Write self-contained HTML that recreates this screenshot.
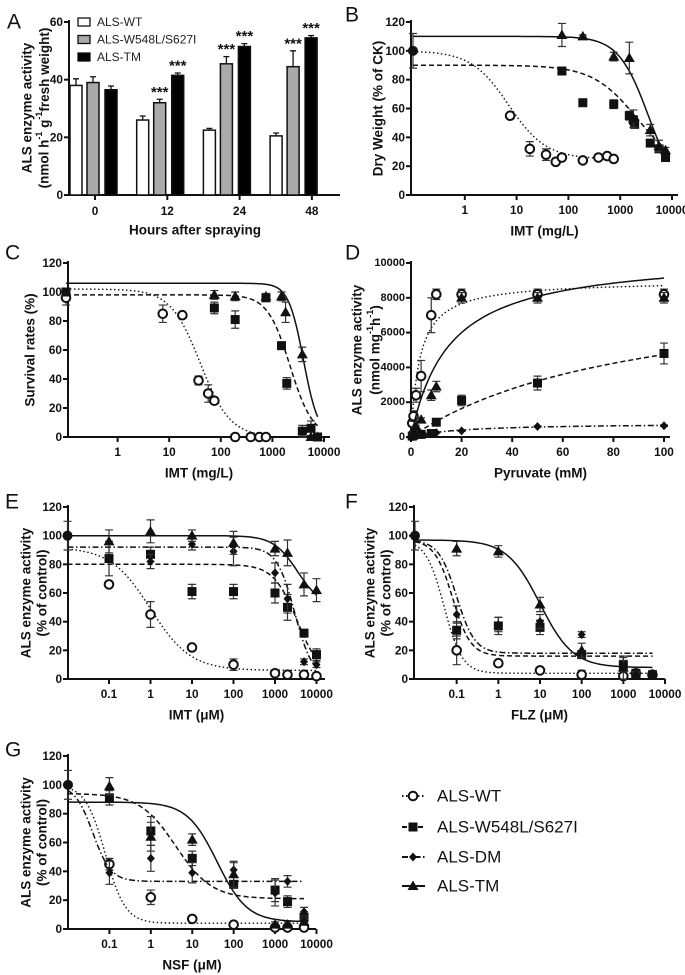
<!DOCTYPE html>
<html><head><meta charset="utf-8"><style>
body{margin:0;background:#fff;}
svg{display:block;font-family:"Liberation Sans",Arial,sans-serif;}
.tk{font-size:11.8px;font-weight:bold;fill:#111;}
.tt{font-size:13.5px;font-weight:bold;fill:#111;}
.pl{font-size:21px;fill:#111;}
.st{font-size:15px;font-weight:bold;fill:#111;}
</style></head><body>
<svg id="fig" width="685" height="975" viewBox="0 0 685 975"></svg>
<script>
// ---------- Panel A data ----------
const aCats=["0","12","24","48"];
const aSeries=["ALS-WT","ALS-W548L/S627I","ALS-TM"];
const aWT=[38,26,22.5,20.5], aWTe=[2.3,1.4,0.6,1];
const aMU=[39,32,45.5,44.5], aMUe=[2,1.2,2.5,5.5];
const aTM=[36.5,41.5,51.5,54.5], aTMe=[1.3,0.8,1,0.8];
const aStarsMU=[false,true,true,true], aStarsTM=[false,true,true,true];
const aYTicks=[0,20,40,60];
// ---------- Panel B data (x, y, err) ----------
const bWTx=[0.1,7.5,18,37,57,75,190,380,560,750], bWTy=[100,55,32,28,23,26,24,26,27,25], bWTe=[12,2,5,4,1,1,1,1,1,1];
const bMUx=[75,190,750,1500,1800,1900,3800,5600,7500], bMUy=[86,64,63,55,52,49,36,32,26], bMUe=[2,1,3,3,3,2,1,2,1];
const bTMx=[75,190,750,1500,1800,3800,5600,7500], bTMy=[111,110,96,95,53,45,34,31], bTMe=[8,1,3,11,6,4,4,2];
const bFitWT=[100,25,7,1.2], bFitMU=[90,15,2200,1], bFitTM=[110,0,3500,1.5];
// ---------- Panel C ----------
const cWTx=[0.1,7.5,18,37,57,75,190,380,560,750], cWTy=[96,85,84,39,30,25,0,0,0,0], cWTe=[5,6,1,3,6,2,0,0,0,0];
const cMUx=[0.1,75,190,750,1500,1900,3800,5600,7500], cMUy=[100,89,81,96,63,37,4,6,0], cMUe=[2,4,6,2,2,4,4,5,0];
const cTMx=[75,190,750,1500,1800,3800,5600,7500], cTMy=[98,97,97,97,86,57,0,0], cTMe=[3,3,2,3,7,5,0,0];
const cFitWT=[102,0,40,1.5], cFitMU=[98,0,2200,2], cFitTM=[106,0,4000,3];
// ---------- Panel D (Michaelis-Menten) ----------
const dWTx=[0.5,1,2,4,8,10,20,50,100], dWTy=[800,1200,2400,3500,7000,8200,8200,8200,8200], dWTe=[200,300,400,900,1000,300,300,300,300];
const dMUx=[0.5,1,2,4,8,10,20,50,100], dMUy=[50,100,150,150,200,850,2100,3100,4800], dMUe=[30,30,30,30,50,100,300,400,600];
const dDMx=[0.5,1,5,10,20,50,100], dDMy=[20,50,150,250,350,600,650], dDMe=[10,10,20,20,30,40,40];
const dTMx=[0.5,1,2,4,8,10,20,50,100], dTMy=[150,300,600,1000,2400,2900,8000,8000,8000], dTMe=[50,50,80,100,300,300,300,300,300];
const dFitWT=[9000,3.5], dFitMU=[9000,90], dFitDM=[800,20], dFitTM=[10500,15];
// ---------- Panel E ----------
const eWTx=[0.01,0.1,1,10,100,1000,2000,5000,10000], eWTy=[100,66,45,22,10,4,3,3,2], eWTe=[10,2,9,1,4,1,1,1,1];
const eMUx=[0.1,1,10,100,1000,2000,5000,10000], eMUy=[84,87,61,61,60,50,32,17], eMUe=[12,5,5,5,7,9,2,4];
const eDMx=[1,10,100,1000,2000,5000,10000], eDMy=[82,94,89,74,56,12,10], eDMe=[5,4,10,7,10,2,2];
const eTMx=[0.1,1,10,100,1000,2000,5000,10000], eTMy=[96,103,100,95,91,88,66,62], eTMe=[8,8,4,8,5,9,8,8];
const eFitWT=[92,6,1,0.9], eFitMU=[80,0,3500,1.5], eFitDM=[92,0,3000,2], eFitTM=[100,50,3500,1.5];
// ---------- Panel F ----------
const fWTx=[0.01,0.1,1,10,100,1000,2000,5000], fWTy=[100,20,11,6,3,2,4,3], fWTe=[10,10,2,1,3,1,1,1];
const fMUx=[0.1,1,10,100,1000,2000,5000], fMUy=[34,37,36,17,10,4,3], fMUe=[6,6,5,2,5,1,1];
const fDMx=[0.1,1,10,100,1000,2000], fDMy=[45,38,40,31,10,3], fDMe=[6,5,5,2,3,1];
const fTMx=[0.1,1,10,100,1000,2000], fTMy=[91,89,52,20,8,3], fTMe=[5,4,5,5,8,2];
const fFitWT=[97,4,0.05,2], fFitMU=[97,16,0.08,2], fFitDM=[97,18,0.1,2], fFitTM=[97,8,10,1.1];
// ---------- Panel G ----------
const gWTx=[0.01,0.1,1,10,100,1000,2000,5000], gWTy=[100,45,22,7,3,1,1,1], gWTe=[10,4,5,1,1,1,1,1];
const gMUx=[0.1,1,10,100,1000,2000,5000], gMUy=[91,68,49,31,27,19,8], gMUe=[5,10,5,2,8,4,3];
const gDMx=[0.1,1,10,100,1000,2000,5000], gDMy=[39,49,39,41,25,33,12], gDMe=[8,9,7,5,9,4,3];
const gTMx=[0.1,1,10,100,1000,2000,5000], gTMy=[99,64,62,38,3,3,5], gTMe=[6,10,4,9,2,2,2];
const gFitWT=[100,4,0.08,1.8], gFitMU=[94,21,4,1], gFitDM=[100,33,0.04,2], gFitTM=[88,5,40,1.2];
const logTicks=[0.1,1,10,100,1000,10000], logTicksB=[1,10,100,1000,10000];
const pctTicks=[0,20,40,60,80,100,120], dYTicks=[0,2000,4000,6000,8000,10000], dXTicks=[0,20,40,60,80,100];

const NS="http://www.w3.org/2000/svg", svg=document.getElementById('fig');
function el(t,a,p){const e=document.createElementNS(NS,t);for(const k in a)e.setAttribute(k,a[k]);(p||svg).appendChild(e);return e;}
function txt(s,x,y,cls,p,anchor,rot){const e=el('text',{x:x,y:y,class:cls,'text-anchor':anchor||'middle','dominant-baseline':'central'},p);if(rot)e.setAttribute('transform','rotate(-90 '+x+' '+y+')');e.textContent=s;return e;}
function lin(d0,d1,r0,r1){return v=>r0+(v-d0)/(d1-d0)*(r1-r0);}
function logs(d0,d1,r0,r1){return v=>r0+(Math.log10(v)-Math.log10(d0))/(Math.log10(d1)-Math.log10(d0))*(r1-r0);}
function hill(p){return x=>p[1]+(p[0]-p[1])/(1+Math.pow(x/p[2],p[3]));}
function mm(p){return x=>p[0]*x/(p[1]+x);}
const DASH={WT:'1.5 2.5',MU:'5 3',DM:'6 2.5 1.5 2.5',TM:''};

function marker(g,kind,x,y){
  let m;
  if(kind==='WT'){m=el('circle',{cx:x,cy:y,r:4.3,fill:'#fff',stroke:'#111','stroke-width':2},g);}
  else if(kind==='MU'){m=el('rect',{x:x-4.5,y:y-4.5,width:9,height:9,fill:'#111'},g);}
  else if(kind==='DM'){m=el('path',{d:`M${x},${y-4.5}L${x+4},${y}L${x},${y+4.5}L${x-4},${y}Z`,fill:'#111'},g);}
  else if(kind==='CTRL'){m=el('circle',{cx:x,cy:y,r:5,fill:'#111'},g);}
  else {m=el('path',{d:`M${x},${y-5.5}L${x+5.5},${y+4}L${x-5.5},${y+4}Z`,fill:'#111'},g);}
  return m;
}
function errbar(g,x,y0,y1){
  el('path',{d:`M${x},${y0}V${y1}M${x-4},${y0}H${x+4}M${x-4},${y1}H${x+4}`,stroke:'#333','stroke-width':1.2,fill:'none'},g);
}
function axes(g,P,xs,ys,xt,xtl,yt,xtitle,ytitles,ytx,ytfs){
  el('path',{d:`M${P.x0},${P.yTop-2}V${P.y0}H${P.x1}`,stroke:'#111','stroke-width':2,fill:'none'},g);
  yt.forEach(v=>{const y=ys(v);el('line',{x1:P.x0-5,x2:P.x0,y1:y,y2:y,stroke:'#111','stroke-width':2},g);
    const t=txt(String(v),P.x0-6,y,'tk',g,'end');if(ytfs)t.setAttribute('style','font-size:'+ytfs+'px');
    });
  xt.forEach((v,i)=>{const x=xs(v);el('line',{x1:x,x2:x,y1:P.y0,y2:P.y0+5,stroke:'#111','stroke-width':2},g);
    const t=txt(xtl[i],x,P.y0+15,'tk',g);});
  const xtt=txt(xtitle,(P.x0+P.x1)/2,P.y0+36,'tt',g);
  ytitles.forEach((s,i)=>{const t=txt(s,ytx[i],(P.yTop+P.y0)/2,'tt',g,'middle',true);});
}
function series(g,kind,xs,ys,X,Y,E,fit,fx0,fx1,islog,ctrlX){
  const sg=el('g',{},g);
  
  
  if(fit){let d='';const N=120;for(let i=0;i<=N;i++){const x=islog?Math.pow(10,Math.log10(fx0)+(Math.log10(fx1)-Math.log10(fx0))*i/N):fx0+(fx1-fx0)*i/N;
      d+=(i?'L':'M')+xs(x).toFixed(1)+','+ys(fit(x)).toFixed(1);}
    el('path',{d:d,fill:'none',stroke:'#111','stroke-width':kind==='WT'?1.4:1.5,'stroke-dasharray':DASH[kind]},sg);}
  X.forEach((x,i)=>{const px=xs(x),py=ys(Y[i]);if(E[i]>0)errbar(sg,px,ys(Y[i]+E[i]),ys(Y[i]-E[i]));
    const m=marker(sg,(ctrlX!==undefined&&x===ctrlX)?'CTRL':kind,px,py);
    
    });
}
function label(s,x,y){const t=txt(s,x,y,'pl',svg,'start');}

// ---------- Panel A ----------
(function(){
  const g=el('g',{});
  const P={x0:69,x1:340,y0:195,yTop:22};
  const ys=lin(0,60,195,22);
  const gc=i=>93+i*66.7, tc=i=>95+i*72.3;
  el('path',{d:`M${P.x0},${P.yTop-2}V${P.y0}H${P.x1}`,stroke:'#111','stroke-width':2,fill:'none'},g);
  aYTicks.forEach(v=>{const y=ys(v);el('line',{x1:P.x0-5,x2:P.x0,y1:y,y2:y,stroke:'#111','stroke-width':2},g);
    const t=txt(String(v),P.x0-6,y,'tk',g,'end');});
  const sets=[[aWT,aWTe,'#fff',-17,null],[aMU,aMUe,'#aaa',0,aStarsMU],[aTM,aTMe,'#000',18,aStarsTM]];
  aCats.forEach((c,i)=>{
    sets.forEach((s,k)=>{const cx=gc(i)+s[3],v=s[0][i],e=s[1][i];
      el('path',{d:`M${cx},${ys(v)}V${ys(v+e)}M${cx-3},${ys(v+e)}H${cx+3}`,stroke:'#111','stroke-width':1.3},g);
      const b=el('rect',{x:cx-6,y:ys(v),width:12,height:195-ys(v),fill:s[2],stroke:'#111','stroke-width':1.5},g);
      
      
      if(s[4]&&s[4][i]){const t=txt('***',cx,ys(v+e)-7,'st',g);}
    });
    el('line',{x1:tc(i),x2:tc(i),y1:195,y2:200,stroke:'#111','stroke-width':2},g);
    const t=txt(c,tc(i),211,'tk',g);
  });
  const xt=txt('Hours after spraying',195,230,'tt',g);
  const y1=txt('ALS enzyme activity',27,108,'tt',g,'middle',true);
  const y2=el('text',{x:44,y:108,class:'tt','text-anchor':'middle','dominant-baseline':'central',transform:'rotate(-90 44 108)'},g);
  y2.innerHTML='(nmol h<tspan font-size="9" dy="-5">-1</tspan><tspan dy="5"> g</tspan><tspan font-size="9" dy="-5">-1</tspan><tspan dy="5">fresh weight)</tspan>';
  
  const cols=['#fff','#aaa','#000'];
  aSeries.forEach((s,i)=>{const y=22+i*17.5;const lg=el('g',{},g);
    
    el('rect',{x:78,y:y-4,width:12,height:8,fill:cols[i],stroke:'#111','stroke-width':1.3},lg);
    txt(s,97,y,'',lg,'start').setAttribute('style','font-size:12px;fill:#222');});
})();
label('A',7,22);

// ---------- Panel B ----------
(function(){const g=el('g',{});
  const P={x0:411,x1:678,y0:195,yTop:22};const xs=logs(0.1,10000,413,672),ys=lin(0,120,195,22);
  axes(g,P,xs,ys,logTicksB,['1','10','100','1000','10000'],pctTicks,'IMT (mg/L)',['Dry Weight (% of CK)'],[378]);
  series(g,'WT',xs,ys,bWTx,bWTy,bWTe,hill(bFitWT),0.1,750,true,0.1);
  series(g,'MU',xs,ys,bMUx,bMUy,bMUe,hill(bFitMU),0.1,7500,true);
  series(g,'TM',xs,ys,bTMx,bTMy,bTMe,hill(bFitTM),0.1,7500,true);
})();
label('B',345,15);

// ---------- Panel C ----------
(function(){const g=el('g',{});
  const P={x0:68,x1:330,y0:437,yTop:263};const xs=logs(0.1,10000,66,324),ys=lin(0,120,437,263);
  axes(g,P,xs,ys,logTicksB,['1','10','100','1000','10000'],pctTicks,'IMT (mg/L)',['Survival rates (%)'],[30]);
  series(g,'WT',xs,ys,cWTx,cWTy,cWTe,hill(cFitWT),0.1,750,true);
  series(g,'MU',xs,ys,cMUx,cMUy,cMUe,hill(cFitMU),0.1,7500,true);
  series(g,'TM',xs,ys,cTMx,cTMy,cTMe,hill(cFitTM),0.1,7500,true);
})();
label('C',5,253);

// ---------- Panel D ----------
(function(){const g=el('g',{});
  const P={x0:411,x1:670,y0:437,yTop:263};const xs=lin(0,100,411,664),ys=lin(0,10000,437,263);
  axes(g,P,xs,ys,dXTicks,dXTicks.map(String),dYTicks,'Pyruvate (mM)',['ALS enzyme activity'],[357],11);
  const y2=el('text',{x:375,y:350,class:'tt','text-anchor':'middle','dominant-baseline':'central',transform:'rotate(-90 375 350)'},g);
  y2.innerHTML='(nmol mg<tspan font-size="9" dy="-5">-1</tspan><tspan dy="5">h</tspan><tspan font-size="9" dy="-5">-1</tspan><tspan dy="5">)</tspan>';
  
  series(g,'WT',xs,ys,dWTx,dWTy,dWTe,mm(dFitWT),0,100,false);
  series(g,'MU',xs,ys,dMUx,dMUy,dMUe,mm(dFitMU),0,100,false);
  series(g,'DM',xs,ys,dDMx,dDMy,dDMe,mm(dFitDM),0,100,false);
  series(g,'TM',xs,ys,dTMx,dTMy,dTMe,mm(dFitTM),0,100,false);
})();
label('D',345,253);

// ---------- Panel E ----------
(function(){const g=el('g',{});
  const P={x0:68,x1:325,y0:679,yTop:507};const xs=logs(0.01,10000,67.5,316.5),ys=lin(0,120,679,507);
  axes(g,P,xs,ys,logTicks,['0.1','1','10','100','1000','10000'],pctTicks,'IMT (μM)',['ALS enzyme activity','(% of control)'],[26,42]);
  series(g,'WT',xs,ys,eWTx,eWTy,eWTe,hill(eFitWT),0.01,10000,true,0.01);
  series(g,'MU',xs,ys,eMUx,eMUy,eMUe,hill(eFitMU),0.01,10000,true);
  series(g,'DM',xs,ys,eDMx,eDMy,eDMe,hill(eFitDM),0.01,10000,true);
  series(g,'TM',xs,ys,eTMx,eTMy,eTMe,hill(eFitTM),0.01,10000,true);
})();
label('E',5,502);

// ---------- Panel F ----------
(function(){const g=el('g',{});
  const P={x0:414,x1:665,y0:679,yTop:507};const xs=logs(0.01,10000,415,665),ys=lin(0,120,679,507);
  axes(g,P,xs,ys,logTicks,['0.1','1','10','100','1000','10000'],pctTicks,'FLZ (μM)',['ALS enzyme activity','(% of control)'],[370,386]);
  series(g,'WT',xs,ys,fWTx,fWTy,fWTe,hill(fFitWT),0.01,5000,true,0.01);
  series(g,'MU',xs,ys,fMUx,fMUy,fMUe,hill(fFitMU),0.01,5000,true);
  series(g,'DM',xs,ys,fDMx,fDMy,fDMe,hill(fFitDM),0.01,5000,true);
  series(g,'TM',xs,ys,fTMx,fTMy,fTMe,hill(fFitTM),0.01,5000,true);
})();
label('F',345,502);

// ---------- Panel G ----------
(function(){const g=el('g',{});
  const P={x0:68,x1:316,y0:929,yTop:756};const xs=logs(0.01,10000,68,316.5),ys=lin(0,120,929,756);
  axes(g,P,xs,ys,logTicks,['0.1','1','10','100','1000','10000'],pctTicks,'NSF (μM)',['ALS enzyme activity','(% of control)'],[26,42]);
  series(g,'WT',xs,ys,gWTx,gWTy,gWTe,hill(gFitWT),0.01,5000,true,0.01);
  series(g,'MU',xs,ys,gMUx,gMUy,gMUe,hill(gFitMU),0.01,5000,true);
  series(g,'DM',xs,ys,gDMx,gDMy,gDMe,hill(gFitDM),0.01,5000,true);
  series(g,'TM',xs,ys,gTMx,gTMy,gTMe,hill(gFitTM),0.01,5000,true);
})();
label('G',5,750);

// ---------- Shared legend ----------
(function(){const g=el('g',{});
  const kinds=['WT','MU','DM','TM'],names=['ALS-WT','ALS-W548L/S627I','ALS-DM','ALS-TM'],ys=[796,827,857,886];
  kinds.forEach((k,i)=>{const lg=el('g',{},g);
    
    el('line',{x1:402,x2:425,y1:ys[i],y2:ys[i],stroke:'#111','stroke-width':2,'stroke-dasharray':DASH[k]},lg);
    marker(lg,k,413,ys[i]);
    const t=txt(names[i],437,ys[i],'',lg,'start');t.setAttribute('style','font-size:17px;fill:#111');});
})();
</script>
</body></html>
